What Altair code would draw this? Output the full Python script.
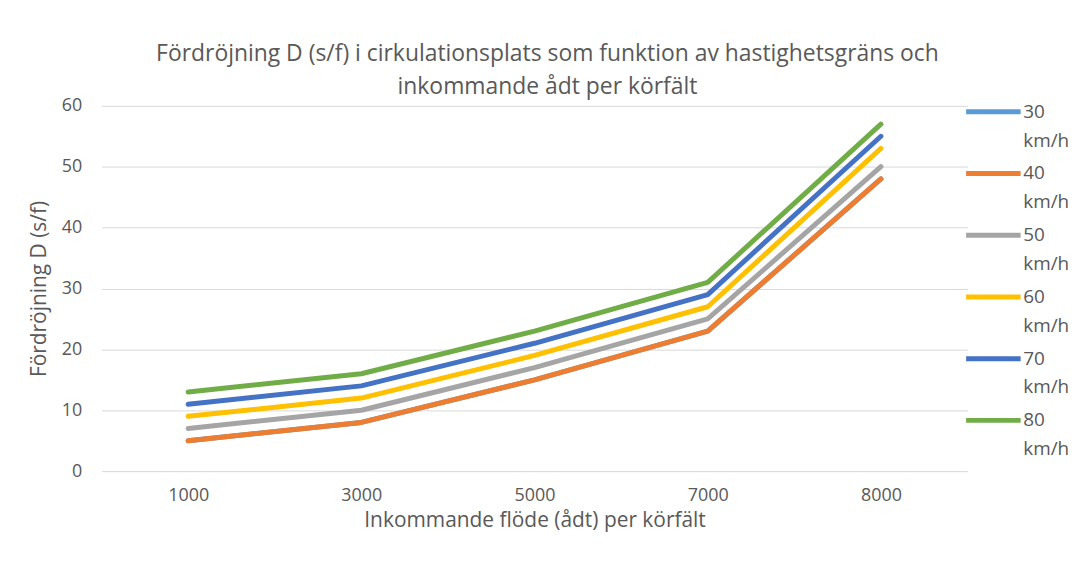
import altair as alt
import pandas as pd

flows = ["1000", "3000", "5000", "7000", "8000"]
series = ["30 km/h", "40 km/h", "50 km/h", "60 km/h", "70 km/h", "80 km/h"]
v30 = [5, 8, 15, 23, 48]
v40 = [5, 8, 15, 23, 48]
v50 = [7, 10, 17, 25, 50]
v60 = [9, 12, 19, 27, 53]
v70 = [11, 14, 21, 29, 55]
v80 = [13, 16, 23, 31, 57]
colors = ["#5B9BD5", "#ED7D31", "#A5A5A5", "#FFC000", "#4472C4", "#70AD47"]

rows = []
for name, vals in zip(series, [v30, v40, v50, v60, v70, v80]):
    for f, v in zip(flows, vals):
        rows.append({"flow": f, "delay": v, "series": name, "unit": name,
                     "ord": series.index(name)})
df = pd.DataFrame(rows)

TXT = "#595959"
FONT = "Open Sans"
LEG_X = 866
LEG_Y = -24
ROWPAD = 22

common_legend = dict(title=None, orient="none", legendX=LEG_X,
                     symbolType="stroke", symbolSize=3000, symbolStrokeWidth=5,
                     labelOffset=0, rowPadding=ROWPAD, padding=0,
                     labelFontSize=19, labelColor=TXT, labelFont=FONT, labelLimit=200)

x_enc = alt.X("flow:O", sort=flows, scale=alt.Scale(type="point", padding=0.5),
              axis=alt.Axis(title="Inkommande flöde (ådt) per körfält", labelAngle=0,
                            ticks=False, domain=False, grid=False, labelPadding=16,
                            titlePadding=5))
y_enc = alt.Y("delay:Q", scale=alt.Scale(domain=[0, 60], nice=False),
              axis=alt.Axis(title="Fördröjning D (s/f)", values=[0, 10, 20, 30, 40, 50, 60],
                            ticks=False, domain=False, labelPadding=20, titlePadding=12))

lines = alt.Chart(df).mark_line(strokeWidth=5, strokeCap="round", strokeJoin="round").encode(
    x=x_enc, y=y_enc,
    color=alt.Color("series:N", sort=series,
                    scale=alt.Scale(domain=series, range=colors),
                    legend=alt.Legend(legendY=LEG_Y,
                                      labelExpr="split(datum.label, ' ')[0]",
                                      **common_legend)),
    order=alt.Order("ord:Q"),
)

# invisible layer that only supplies the second line ("km/h") of each legend entry
units = alt.Chart(df).mark_line(opacity=0).encode(
    x=x_enc, y=y_enc,
    strokeDash=alt.StrokeDash("unit:N", sort=series,
                              legend=alt.Legend(legendY=LEG_Y + 29, symbolOpacity=0,
                                                labelExpr="split(datum.label, ' ')[1]",
                                                **common_legend)),
)

chart = alt.layer(lines, units).properties(
    width=870, height=367,
    title=alt.Title(["Fördröjning D (s/f) i cirkulationsplats som funktion av hastighetsgräns och",
                     "inkommande ådt per körfält"],
                    fontSize=23, font=FONT, color=TXT, fontWeight="normal",
                    anchor="middle", offset=-17, lineHeight=33, dx=13),
    autosize=alt.AutoSizeParams(type="none"),
    padding={"left": 94, "top": 97, "right": 106, "bottom": 90},
).configure_axis(
    labelFont=FONT, titleFont=FONT, labelFontSize=18, titleFontSize=21,
    labelColor=TXT, titleColor=TXT, titleFontWeight="normal", gridColor="#D9D9D9",
).configure_view(stroke=None)

chart.save("out.html", embed_options={"renderer": "svg", "actions": False})
